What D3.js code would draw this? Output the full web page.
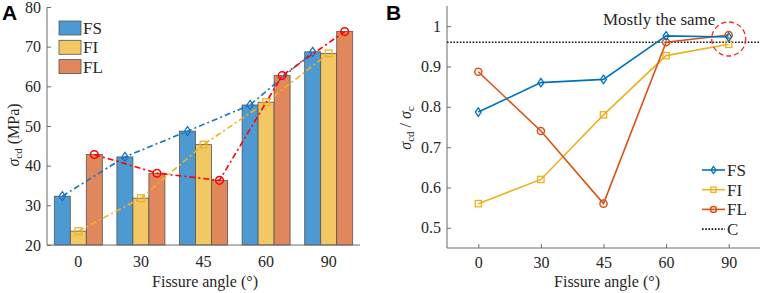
<!DOCTYPE html>
<html>
<head>
<meta charset="utf-8">
<script src="https://cdn.jsdelivr.net/npm/d3@7"></script>
<style>
  body { margin: 0; background: #fff; }
  svg { display: block; }
  svg text { font-family: "Liberation Serif", "DejaVu Serif", "Times New Roman", serif; fill: #262626; }
  svg text.panel { font-family: "Liberation Sans", Arial, sans-serif; font-weight: bold; fill: #000; }
</style>
</head>
<body>
<svg id="chart" width="761" height="293"></svg>
<script>
const angles = ["0", "30", "45", "60", "90"];
const seriesNames = ["FS", "FI", "FL"];

// panel A: sigma_cd (MPa)
const strengthFS = [32.3, 42.2, 48.7, 55.3, 68.7];
const strengthFI = [23.5, 31.8, 45.3, 56.0, 68.3];
const strengthFL = [42.8, 38.1, 36.3, 62.7, 73.8];
const yTicksA = [20, 30, 40, 50, 60, 70, 80];

// panel B: sigma_cd / sigma_c
const ratioFS = [0.787, 0.860, 0.868, 0.976, 0.973];
const ratioFI = [0.560, 0.620, 0.780, 0.927, 0.955];
const ratioFL = [0.887, 0.740, 0.560, 0.960, 0.978];
const ratioC = 0.96;
const yTicksB = [0.5, 0.6, 0.7, 0.8, 0.9, 1];

const barFill = { FS: "#4d9ad2", FI: "#f2c864", FL: "#e0875b" };
const lineA = { FS: "#1a72c0", FI: "#f0b020", FL: "#ff0000" };
const lineB = { FS: "#0072bd", FI: "#edb120", FL: "#d95319" };
const axisColor = "#6b6b6b";

const svg = d3.select("#chart");

function marker(g, type, x, y, color, size) {
  if (type === "FS") {
    g.append("path")
      .attr("d", `M${x},${y - size}L${x + size * 0.7},${y}L${x},${y + size}L${x - size * 0.7},${y}Z`)
      .attr("fill", "none").attr("stroke", color).attr("stroke-width", 1.3);
  } else if (type === "FI") {
    g.append("rect")
      .attr("x", x - size * 0.75).attr("y", y - size * 0.75)
      .attr("width", size * 1.5).attr("height", size * 1.5)
      .attr("fill", "none").attr("stroke", color).attr("stroke-width", 1.3);
  } else {
    g.append("circle").attr("cx", x).attr("cy", y).attr("r", size * 0.85)
      .attr("fill", "none").attr("stroke", color).attr("stroke-width", 1.5);
  }
}

// ---------- Panel A ----------
const leftA = 47, rightA = 360, topA = 7, bottomA = 245;
const x0 = d3.scaleBand().domain(angles).range([leftA, rightA]).paddingInner(0).paddingOuter(0);
const x1 = d3.scaleBand().domain(seriesNames).range([0, 48]);
const yA = d3.scaleLinear().domain([20, 80]).range([bottomA, topA]);
const dataA = { FS: strengthFS, FI: strengthFI, FL: strengthFL };
const barX = (a, s) => x0(a) + (x0.bandwidth() - 48) / 2 + x1(s);

const gA = svg.append("g");

seriesNames.forEach(s => {
  gA.selectAll(null).data(angles).join("rect")
    .attr("x", (a) => barX(a, s))
    .attr("y", (a, i) => yA(dataA[s][i]))
    .attr("width", x1.bandwidth())
    .attr("height", (a, i) => yA(20) - yA(dataA[s][i]))
    .attr("fill", barFill[s])
    .attr("stroke", "#555").attr("stroke-width", 0.8);
});

seriesNames.forEach(s => {
  const pts = angles.map((a, i) => [barX(a, s) + x1.bandwidth() / 2, yA(dataA[s][i])]);
  gA.append("path")
    .attr("d", d3.line()(pts))
    .attr("fill", "none").attr("stroke", lineA[s]).attr("stroke-width", 1.6)
    .attr("stroke-dasharray", "6,3,2,3");
  pts.forEach(p => marker(gA, s, p[0], p[1], lineA[s], 4.5));
});

// axes A
gA.append("g").attr("transform", `translate(${leftA},0)`)
  .call(d3.axisLeft(yA).tickValues(yTicksA).tickSize(-4).tickPadding(6).tickFormat(d3.format("d")))
  .call(g => g.select(".domain").attr("stroke", axisColor).attr("d", `M0,${topA}V${bottomA}`))
  .call(g => g.selectAll(".tick line").attr("stroke", axisColor))
  .call(g => g.selectAll(".tick text").attr("font-size", 16));

gA.append("line").attr("x1", leftA).attr("x2", rightA).attr("y1", bottomA).attr("y2", bottomA)
  .attr("stroke", axisColor);

gA.selectAll(null).data(angles).join("text")
  .attr("x", a => x0(a) + x0.bandwidth() / 2)
  .attr("y", 267).attr("text-anchor", "middle").attr("font-size", 16)
  .text(d => d);

gA.append("text").attr("x", 205).attr("y", 287).attr("text-anchor", "middle")
  .attr("font-size", 16).text("Fissure angle (°)");

const ylabA = gA.append("text").attr("transform", "translate(19,135) rotate(-90)")
  .attr("text-anchor", "middle").attr("font-size", 16);
ylabA.append("tspan").attr("font-style", "italic").text("σ");
ylabA.append("tspan").attr("font-size", 11).attr("dy", 3).text("cd");
ylabA.append("tspan").attr("dy", -3).text(" (MPa)");

// legend A
seriesNames.forEach((s, i) => {
  gA.append("rect").attr("x", 59).attr("y", 21 + i * 19.3).attr("width", 22).attr("height", 14)
    .attr("fill", barFill[s]).attr("stroke", "#555").attr("stroke-width", 0.8);
  gA.append("text").attr("x", 83).attr("y", 34 + i * 19.3).attr("font-size", 17).text(s);
});

svg.append("text").attr("class", "panel").attr("x", 2).attr("y", 20)
  .attr("font-size", 21).text("A");

// ---------- Panel B ----------
const leftB = 447, rightB = 760, topB = 6, bottomB = 248;
const xB = d3.scalePoint().domain(angles).range([leftB, rightB]).padding(0.5);
const yB = d3.scaleLinear().domain([0.45, 1.05]).range([bottomB, topB]);
const dataB = { FS: ratioFS, FI: ratioFI, FL: ratioFL };

const gB = svg.append("g");

gB.append("g").attr("transform", `translate(${leftB},0)`)
  .call(d3.axisLeft(yB).tickValues(yTicksB).tickSize(-4).tickPadding(6).tickFormat(d => d === 1 ? "1" : d3.format(".1f")(d)))
  .call(g => g.select(".domain").attr("stroke", axisColor).attr("d", `M0,${topB}V${bottomB}`))
  .call(g => g.selectAll(".tick line").attr("stroke", axisColor))
  .call(g => g.selectAll(".tick text").attr("font-size", 16));

gB.append("g").attr("transform", `translate(0,${bottomB})`)
  .call(d3.axisBottom(xB).tickSize(-4).tickPadding(9))
  .call(g => g.select(".domain").attr("stroke", axisColor).attr("d", `M${leftB},0H${rightB}`))
  .call(g => g.selectAll(".tick line").attr("stroke", axisColor))
  .call(g => g.selectAll(".tick text").attr("font-size", 16));

// reference line C
gB.append("line").attr("x1", leftB).attr("x2", rightB).attr("y1", yB(ratioC)).attr("y2", yB(ratioC))
  .attr("stroke", "#111").attr("stroke-width", 1.6).attr("stroke-dasharray", "1.6,1.6");

["FI", "FL", "FS"].forEach(s => {
  const pts = angles.map((a, i) => [xB(a), yB(dataB[s][i])]);
  gB.append("path").attr("d", d3.line()(pts))
    .attr("fill", "none").attr("stroke", lineB[s]).attr("stroke-width", 1.6);
  pts.forEach(p => marker(gB, s, p[0], p[1], lineB[s], 4.2));
});

gB.append("text").attr("x", 603).attr("y", 25).attr("font-size", 17).text("Mostly the same");
gB.append("circle").attr("cx", xB("90")).attr("cy", 39).attr("r", 17)
  .attr("fill", "none").attr("stroke", "#ff2020").attr("stroke-width", 1.3).attr("stroke-dasharray", "5,3");

gB.append("text").attr("x", 607).attr("y", 287).attr("text-anchor", "middle")
  .attr("font-size", 16).text("Fissure angle (°)");

const ylabB = gB.append("text").attr("transform", "translate(411,128) rotate(-90)")
  .attr("text-anchor", "middle").attr("font-size", 16);
ylabB.append("tspan").attr("font-style", "italic").text("σ");
ylabB.append("tspan").attr("font-size", 11).attr("dy", 3).text("cd");
ylabB.append("tspan").attr("dy", -3).text(" / ");
ylabB.append("tspan").attr("font-style", "italic").text("σ");
ylabB.append("tspan").attr("font-size", 11).attr("dy", 3).text("c");

// legend B
const legB = ["FS", "FI", "FL", "C"];
legB.forEach((s, i) => {
  const y = 170 + i * 19.7;
  const ln = gB.append("line").attr("x1", 702).attr("x2", 725).attr("y1", y).attr("y2", y);
  if (s === "C") {
    ln.attr("stroke", "#111").attr("stroke-width", 1.6).attr("stroke-dasharray", "1.6,1.6");
  } else {
    ln.attr("stroke", lineB[s]).attr("stroke-width", 1.6);
    marker(gB, s, 713.5, y, lineB[s], 3.5);
  }
  gB.append("text").attr("x", 727).attr("y", y + 6).attr("font-size", 17).text(s);
});

svg.append("text").attr("class", "panel").attr("x", 386).attr("y", 20)
  .attr("font-size", 21).text("B");
</script>
</body>
</html>
